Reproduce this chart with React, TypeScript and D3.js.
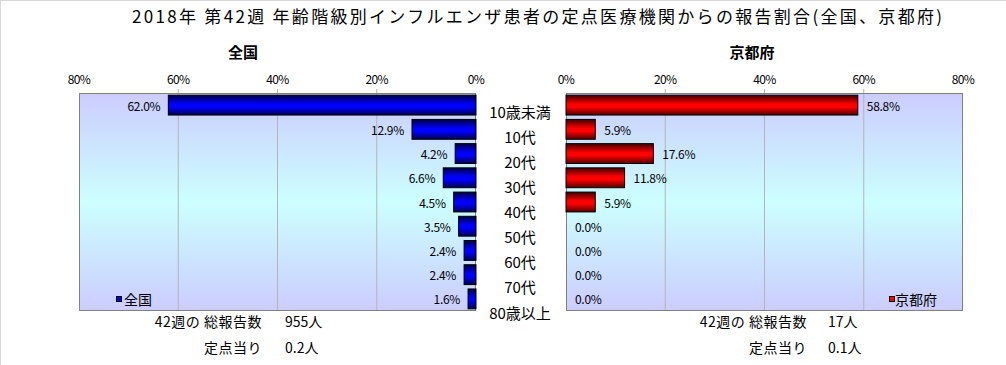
import React from "react";
import * as d3 from "d3";

const categories = ["10歳未満", "10代", "20代", "30代", "40代", "50代", "60代", "70代", "80歳以上"];
const nationalValues = [62.0, 12.9, 4.2, 6.6, 4.5, 3.5, 2.4, 2.4, 1.6];
const kyotoValues = [58.8, 5.9, 17.6, 11.8, 5.9, 0.0, 0.0, 0.0, 0.0];
const tickValues = [0, 20, 40, 60, 80];
const title = "2018年 第42週 年齢階級別インフルエンザ患者の定点医療機関からの報告割合(全国、京都府)";
const nationalTotal = "955人";
const nationalPerSite = "0.2人";
const kyotoTotal = "17人";
const kyotoPerSite = "0.1人";

const FONT = "'Noto Sans CJK JP', 'Noto Sans', sans-serif";

export default function App() {
  const W = 1006, H = 365;
  const top = 93, bottom = 311;
  const L = { x0: 79, x1: 476 };
  const R = { x0: 566, x1: 963 };

  const y = d3.scaleBand<string>().domain(categories).range([top, bottom]).paddingInner(0.18).paddingOuter(0.09);
  const yLabel = d3.scalePoint<string>().domain(categories).range([111, 312]);
  const xL = d3.scaleLinear().domain([0, 80]).range([L.x1, L.x0]);
  const xR = d3.scaleLinear().domain([0, 80]).range([R.x0, R.x1]);
  const fmt = (v: number) => v.toFixed(1) + "%";

  return (
    <svg width={W} height={H} style={{ position: "absolute", left: 0, top: 0, display: "block" }} fontFamily={FONT}>
      <defs>
        <linearGradient id="bg" x1="0" y1="0" x2="0" y2="1">
          <stop offset="0" stopColor="#ccccff" />
          <stop offset="0.5" stopColor="#ccffff" />
          <stop offset="1" stopColor="#ccccff" />
        </linearGradient>
        <linearGradient id="blue" x1="0" y1="0" x2="0" y2="1">
          <stop offset="0" stopColor="#000040" />
          <stop offset="0.45" stopColor="#0000ff" />
          <stop offset="0.6" stopColor="#0000ff" />
          <stop offset="1" stopColor="#000050" />
        </linearGradient>
        <linearGradient id="red" x1="0" y1="0" x2="0" y2="1">
          <stop offset="0" stopColor="#400000" />
          <stop offset="0.45" stopColor="#ff0000" />
          <stop offset="0.6" stopColor="#ff0000" />
          <stop offset="1" stopColor="#500000" />
        </linearGradient>
      </defs>
      <rect x={0} y={0} width={W} height={H} fill="#fff" />
      <line x1={0} y1={0.5} x2={W} y2={0.5} stroke="#d8d8d8" />
      <line x1={0.5} y1={0} x2={0.5} y2={H} stroke="#d8d8d8" />

      <text x={537} y={15} textAnchor="middle" dominantBaseline="central" fontSize={17} textLength={810} lengthAdjust="spacing" fill="#000">{title}</text>

      <text x={243} y={51} textAnchor="middle" dominantBaseline="central" fontSize={15} fontWeight="bold">全国</text>
      <text x={752} y={51} textAnchor="middle" dominantBaseline="central" fontSize={15} fontWeight="bold">京都府</text>

      {/* Left panel */}
      <rect x={L.x0} y={top} width={L.x1 - L.x0} height={bottom - top} fill="url(#bg)" />
      {tickValues.map((t) => (
        <g key={"lt" + t}>
          {t > 0 && t < 80 && <line x1={xL(t)} x2={xL(t)} y1={top - 4} y2={bottom} stroke="#b4b4b4" />}
          <text x={xL(t)} y={78} textAnchor="middle" dominantBaseline="central" fontSize={12} letterSpacing={-0.6}>{t}%</text>
        </g>
      ))}
      <rect x={L.x0 + 0.5} y={top + 0.5} width={L.x1 - L.x0 - 1} height={bottom - top - 1} fill="none" stroke="#808080" />
      {categories.map((c, i) => (
        <g key={"lb" + c}>
          <rect x={xL(nationalValues[i])} y={y(c)} width={xL(0) - xL(nationalValues[i])} height={y.bandwidth()} fill="url(#blue)" stroke="#000" strokeWidth={1} />
          <text x={xL(nationalValues[i]) - 8} y={(y(c) as number) + y.bandwidth() / 2} textAnchor="end" dominantBaseline="central" fontSize={12} letterSpacing={-0.3}>{fmt(nationalValues[i])}</text>
        </g>
      ))}
      <rect x={116.5} y={296.5} width={5} height={5} fill="#0000ff" stroke="#000" />
      <text x={124} y={299} dominantBaseline="central" fontSize={14}>全国</text>

      {/* Right panel */}
      <rect x={R.x0} y={top} width={R.x1 - R.x0} height={bottom - top} fill="url(#bg)" />
      {tickValues.map((t) => (
        <g key={"rt" + t}>
          {t > 0 && t < 80 && <line x1={xR(t)} x2={xR(t)} y1={top - 4} y2={bottom} stroke="#b4b4b4" />}
          <text x={xR(t)} y={78} textAnchor="middle" dominantBaseline="central" fontSize={12} letterSpacing={-0.6}>{t}%</text>
        </g>
      ))}
      <rect x={R.x0 + 0.5} y={top + 0.5} width={R.x1 - R.x0 - 1} height={bottom - top - 1} fill="none" stroke="#808080" />
      {categories.map((c, i) => (
        <g key={"rb" + c}>
          {kyotoValues[i] > 0 && (
            <rect x={xR(0)} y={y(c)} width={xR(kyotoValues[i]) - xR(0)} height={y.bandwidth()} fill="url(#red)" stroke="#000" strokeWidth={1} />
          )}
          <text x={xR(kyotoValues[i]) + 9} y={(y(c) as number) + y.bandwidth() / 2} textAnchor="start" dominantBaseline="central" fontSize={12} letterSpacing={-0.3}>{fmt(kyotoValues[i])}</text>
        </g>
      ))}
      <rect x={889.5} y={296.5} width={5} height={5} fill="#ff0000" stroke="#000" />
      <text x={895} y={299} dominantBaseline="central" fontSize={14}>京都府</text>

      {/* Category labels */}
      {categories.map((c) => (
        <text key={"cl" + c} x={520} y={yLabel(c)} textAnchor="middle" dominantBaseline="central" fontSize={15}>{c}</text>
      ))}

      {/* Summary texts */}
      <text x={262} y={321} textAnchor="end" dominantBaseline="central" fontSize={14} letterSpacing={0.5}>42週の 総報告数</text>
      <text x={285} y={321} dominantBaseline="central" fontSize={14}>{nationalTotal}</text>
      <text x={262} y={347} textAnchor="end" dominantBaseline="central" fontSize={14} letterSpacing={0.5}>定点当り</text>
      <text x={285} y={347} dominantBaseline="central" fontSize={14}>{nationalPerSite}</text>
      <text x={807} y={321} textAnchor="end" dominantBaseline="central" fontSize={14} letterSpacing={0.5}>42週の 総報告数</text>
      <text x={828} y={321} dominantBaseline="central" fontSize={14}>{kyotoTotal}</text>
      <text x={807} y={347} textAnchor="end" dominantBaseline="central" fontSize={14} letterSpacing={0.5}>定点当り</text>
      <text x={828} y={347} dominantBaseline="central" fontSize={14}>{kyotoPerSite}</text>
    </svg>
  );
}
